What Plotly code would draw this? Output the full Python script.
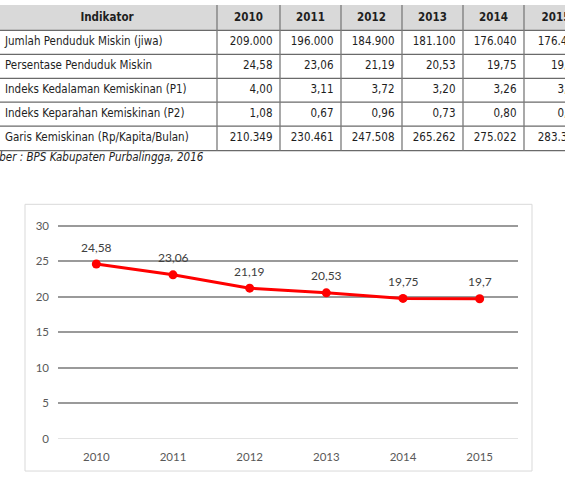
import plotly.graph_objects as go

# ---------------- data ----------------
years = ["2010", "2011", "2012", "2013", "2014", "2015"]
indicators = [
    "Jumlah Penduduk Miskin (jiwa)",
    "Persentase Penduduk Miskin",
    "Indeks Kedalaman Kemiskinan (P1)",
    "Indeks Keparahan Kemiskinan (P2)",
    "Garis Kemiskinan (Rp/Kapita/Bulan)",
]
jumlah = [209000, 196000, 184900, 181100, 176040, 176440]
persentase = [24.58, 23.06, 21.19, 20.53, 19.75, 19.70]
p1 = [4.00, 3.11, 3.72, 3.20, 3.26, 3.08]
p2 = [1.08, 0.67, 0.96, 0.73, 0.80, 0.71]
garis = [210349, 230461, 247508, 265262, 275022, 283337]
source_text = "Sumber : BPS Kabupaten Purbalingga, 2016"

chart_values = [24.58, 23.06, 21.19, 20.53, 19.75, 19.7]


def fmt_int(v):
    return f"{v:,}".replace(",", ".")


def fmt_dec(v):
    return f"{v:.2f}".replace(".", ",")


rows = [
    [fmt_int(v) for v in jumlah],
    [fmt_dec(v) for v in persentase],
    [fmt_dec(v) for v in p1],
    [fmt_dec(v) for v in p2],
    [fmt_int(v) for v in garis],
]

W, H = 565, 479
fig = go.Figure()

# ---------------- table (pixel-unit axes x2/y2) ----------------
TBL_H = 172
col_edges = [-3, 217, 280, 341, 402, 463, 524, 588]
row_edges = [0, 26, 50.5, 75, 99.5, 124, 149]
row_centers = [(row_edges[i] + row_edges[i + 1]) / 2 for i in range(len(row_edges) - 1)]
tfont = "DejaVu Sans Condensed, DejaVu Sans, sans-serif"
tcolor = "#1e1e1e"
pad = 7.5

# header
hx = [(col_edges[0] + col_edges[1]) / 2] + [
    (col_edges[i + 1] + col_edges[i + 2]) / 2 for i in range(len(years))
]
fig.add_trace(go.Scatter(
    x=hx, y=[row_centers[0]] * len(hx), text=["Indikator"] + years,
    mode="text", textposition="middle center", cliponaxis=True,
    textfont=dict(family=tfont, size=11.5, color=tcolor, weight="bold"),
    xaxis="x2", yaxis="y2", hoverinfo="skip", showlegend=False,
))
# indicator names
fig.add_trace(go.Scatter(
    x=[5] * len(indicators), y=row_centers[1:], text=indicators,
    mode="text", textposition="middle right", cliponaxis=True,
    textfont=dict(family=tfont, size=11.5, color=tcolor),
    xaxis="x2", yaxis="y2", hoverinfo="skip", showlegend=False,
))
# value columns
for j, yr in enumerate(years):
    fig.add_trace(go.Scatter(
        x=[col_edges[j + 2] - pad] * len(rows), y=row_centers[1:],
        text=[r[j] for r in rows],
        mode="text", textposition="middle left", cliponaxis=True,
        textfont=dict(family=tfont, size=11.5, color=tcolor),
        xaxis="x2", yaxis="y2", hoverinfo="skip", showlegend=False,
    ))
# source
fig.add_trace(go.Scatter(
    x=[-24], y=[157], text=[source_text],
    mode="text", textposition="middle right", cliponaxis=True,
    textfont=dict(family=tfont, size=11.5, color=tcolor, style="italic"),
    xaxis="x2", yaxis="y2", hoverinfo="skip", showlegend=False,
))

shapes = []
shapes.append(dict(type="rect", xref="x2", yref="y2", x0=col_edges[0], x1=col_edges[-1],
                   y0=row_edges[0], y1=row_edges[1], fillcolor="#d9d9d9",
                   line=dict(width=0), layer="below"))
for ye in row_edges[1:]:
    shapes.append(dict(type="line", xref="x2", yref="y2", x0=col_edges[0], x1=col_edges[-1],
                       y0=ye, y1=ye, line=dict(color="#6a6a6a", width=1.3)))
for xe in col_edges:
    shapes.append(dict(type="line", xref="x2", yref="y2", x0=xe, x1=xe,
                       y0=row_edges[0], y1=row_edges[-1], line=dict(color="#7a7a7a", width=1.3)))

# ---------------- line chart ----------------
cfont = "Lato, 'Open Sans', sans-serif"
fig.add_trace(go.Scatter(
    x=years, y=chart_values, mode="lines+markers",
    line=dict(color="#ff0000", width=3),
    marker=dict(color="#ff0000", size=9),
    hoverinfo="skip", showlegend=False,
))
annotations = []
for i, v in enumerate(chart_values):
    annotations.append(dict(
        x=i, y=v, xref="x", yref="y", text=str(v).replace(".", ","),
        showarrow=False, yshift=17,
        font=dict(family=cfont, size=12, color="#404040"),
    ))

# chart border
shapes.append(dict(type="rect", xref="paper", yref="paper",
                   x0=25 / W, x1=532 / W, y0=1 - 477 / H, y1=1 - 204 / H,
                   line=dict(color="#d9d9d9", width=1), fillcolor="rgba(0,0,0,0)"))

Y0_PX, Y30_PX = 444.0, 225.7
px_per_unit = (Y0_PX - Y30_PX) / 30
YTOP = 30.3
top_px = Y30_PX - (YTOP - 30) * px_per_unit

fig.update_layout(
    width=W, height=H,
    margin=dict(l=0, r=0, t=0, b=0),
    paper_bgcolor="white", plot_bgcolor="rgba(0,0,0,0)",
    shapes=shapes, annotations=annotations,
    xaxis=dict(domain=[58 / W, 518 / W], type="category", range=[-0.5, 5.5],
               showgrid=False, zeroline=False, showline=False, ticks="",
               tickfont=dict(family=cfont, size=11.5, color="#595959"),
               ticklabelstandoff=10, fixedrange=True),
    yaxis=dict(domain=[1 - Y0_PX / H, 1 - top_px / H], range=[0, YTOP],
               tickvals=[0, 5, 10, 15, 20, 25, 30],
               showgrid=True, gridcolor="#9a9a9a", gridwidth=1.5,
               zeroline=True, zerolinecolor="#e3e3e3", zerolinewidth=1,
               showline=False, ticks="",
               tickfont=dict(family=cfont, size=11.5, color="#595959"),
               ticklabelstandoff=8, fixedrange=True),
    xaxis2=dict(domain=[0, 1], range=[0, W], visible=False, fixedrange=True, anchor="y2"),
    yaxis2=dict(domain=[1 - TBL_H / H, 1], range=[TBL_H, 0], visible=False,
                fixedrange=True, anchor="x2"),
)

fig.write_html(
    "out.html",
    post_script="document.body.style.margin='0';document.body.style.overflow='hidden';",
)
